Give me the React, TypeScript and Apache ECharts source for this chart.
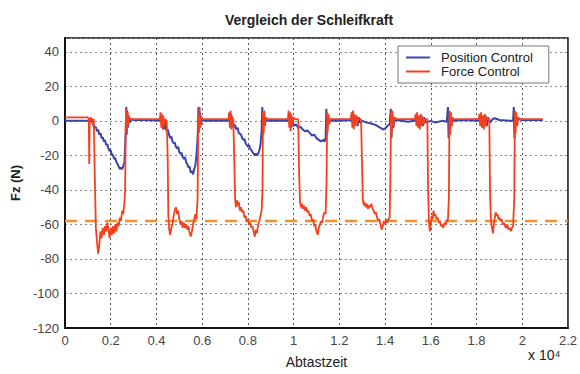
import React, { useEffect, useRef } from "react";
import * as echarts from "echarts";

const chartTitle = "Vergleich der Schleifkraft";
const xAxisName = "Abtastzeit";
const yAxisName = "Fz (N)";
const seriesNames = ["Position Control", "Force Control"];
const referenceLevel = -58;

// x in units of 10^4 samples, y = Fz in N
const positionControl: [number, number][] = [
  [0, 0], [0.1, 0], [0.115, 0.5], [0.12, -1], [0.125, -3], [0.13, -4], [0.135, -3.5], [0.14, -6], [0.145, -5],
  [0.15, -8], [0.155, -7], [0.16, -10], [0.165, -9.5], [0.17, -12], [0.175, -11], [0.18, -14], [0.185, -13.5],
  [0.19, -16], [0.195, -17.5], [0.2, -17], [0.205, -19.5], [0.21, -20], [0.215, -22], [0.22, -21.5], [0.225, -24],
  [0.23, -25], [0.235, -26.5], [0.24, -28], [0.245, -27], [0.25, -28], [0.255, -26], [0.26, -24], [0.263, -15],
  [0.266, -5], [0.268, 8], [0.27, -8], [0.272, 6], [0.275, -4], [0.278, 3], [0.282, -1], [0.29, 1], [0.3, 0.5],
  [0.35, 0.5], [0.42, 0], [0.425, -3], [0.428, 2], [0.432, -5], [0.436, 1], [0.44, -4], [0.445, -6], [0.45, -5],
  [0.455, -8], [0.46, -10], [0.465, -9], [0.47, -12], [0.475, -13], [0.48, -12.5], [0.485, -15], [0.49, -16],
  [0.495, -15], [0.5, -18], [0.505, -19], [0.51, -18.5], [0.515, -21], [0.52, -22], [0.525, -21], [0.53, -24],
  [0.535, -25], [0.54, -27], [0.545, -26.5], [0.55, -30], [0.555, -29], [0.56, -31], [0.565, -28], [0.57, -26],
  [0.575, -20], [0.58, -10], [0.584, 8], [0.587, -6], [0.59, 5], [0.594, -2], [0.6, 1], [0.61, 0], [0.72, 0],
  [0.725, 4], [0.728, -3], [0.732, 2], [0.736, -4], [0.74, -2], [0.745, -3], [0.75, -5], [0.755, -4], [0.76, -7],
  [0.77, -8], [0.775, -10], [0.78, -11], [0.785, -10.5], [0.79, -13], [0.8, -15], [0.805, -14], [0.81, -16],
  [0.82, -18], [0.825, -19], [0.83, -20], [0.835, -19], [0.84, -20], [0.845, -19], [0.85, -17], [0.855, -14],
  [0.86, -6], [0.863, 8], [0.866, -8], [0.869, 4], [0.873, -2], [0.88, 1], [0.89, 0], [0.98, 0], [0.985, 4],
  [0.99, -4], [0.995, 2], [1.0, -3], [1.01, -2], [1.02, -4], [1.03, -3.5], [1.04, -5], [1.05, -6], [1.06, -5.5],
  [1.07, -7], [1.08, -8.5], [1.09, -8], [1.1, -10], [1.11, -11], [1.12, -12], [1.13, -11], [1.135, -12],
  [1.14, -10], [1.143, 7], [1.146, -8], [1.15, 3], [1.155, -1], [1.16, 0.5], [1.17, 0], [1.2, 0], [1.25, 0.5],
  [1.27, 0], [1.275, 3], [1.28, -3], [1.285, 2], [1.29, -1], [1.3, 0], [1.32, -1], [1.34, -1.5], [1.36, -2.5],
  [1.38, -4], [1.39, -5], [1.4, -4.5], [1.41, -3], [1.42, -2], [1.425, 7], [1.428, -10], [1.432, 3], [1.436, -4],
  [1.44, 0], [1.45, 0.5], [1.5, -0.5], [1.55, 0.5], [1.56, 3], [1.565, -3], [1.57, 2], [1.58, -1], [1.6, 0],
  [1.62, -1], [1.65, 0], [1.67, -0.5], [1.675, 8], [1.678, -10], [1.682, 5], [1.686, -3], [1.69, 1], [1.7, 0],
  [1.75, 0.5], [1.8, 0], [1.83, 0], [1.84, 3], [1.845, -3], [1.85, 2], [1.86, -1], [1.87, 1], [1.88, 1.5],
  [1.9, 0.5], [1.95, 0], [1.96, 0], [1.963, 8], [1.966, -10], [1.97, 4], [1.975, -2], [1.98, 1], [2.0, 0.5],
  [2.09, 0.5],
];

const forceControl: [number, number][] = [
  [0, 2], [0.1, 2], [0.104, 1], [0.106, -25], [0.108, 0], [0.112, 2], [0.118, 1], [0.122, -2], [0.126, 1],
  [0.13, -30], [0.135, -62], [0.14, -70], [0.145, -77], [0.15, -72], [0.155, -64], [0.16, -68], [0.165, -62],
  [0.17, -66], [0.175, -61], [0.18, -64], [0.185, -59], [0.19, -63], [0.195, -68], [0.2, -62], [0.205, -66],
  [0.21, -61], [0.215, -65], [0.22, -60], [0.225, -64], [0.23, -59], [0.235, -61], [0.24, -56], [0.245, -58],
  [0.25, -52], [0.255, -54], [0.26, -47], [0.263, -40], [0.266, 0], [0.268, 7], [0.271, -6], [0.274, 5],
  [0.277, -3], [0.28, 2], [0.29, 1], [0.415, 1], [0.418, 5], [0.421, -4], [0.424, 4], [0.427, -5], [0.43, 3],
  [0.433, -3], [0.437, 1], [0.445, 0], [0.449, -20], [0.452, -55], [0.456, -63], [0.46, -66], [0.465, -62],
  [0.47, -60], [0.475, -55], [0.48, -52], [0.485, -50], [0.49, -54], [0.495, -52], [0.5, -57], [0.505, -60],
  [0.51, -58], [0.515, -62], [0.52, -59], [0.525, -62], [0.53, -60], [0.535, -63], [0.54, -61], [0.545, -65],
  [0.55, -67], [0.555, -64], [0.56, -60], [0.565, -57], [0.57, -54], [0.575, -57], [0.58, -45], [0.583, 3],
  [0.586, -7], [0.589, 8], [0.592, -4], [0.595, 3], [0.6, 1], [0.715, 1], [0.718, 5], [0.721, -4], [0.724, 6],
  [0.727, -5], [0.73, 3], [0.733, -2], [0.736, 1], [0.74, -20], [0.744, -45], [0.748, -50], [0.752, -46],
  [0.756, -49], [0.76, -47], [0.765, -52], [0.77, -50], [0.775, -53], [0.78, -52], [0.785, -56], [0.79, -55],
  [0.795, -58], [0.8, -57], [0.805, -60], [0.81, -59], [0.815, -62], [0.82, -61], [0.825, -64], [0.83, -67],
  [0.835, -63], [0.84, -65], [0.845, -60], [0.85, -58], [0.855, -55], [0.86, -52], [0.864, -40], [0.866, 5],
  [0.869, -7], [0.872, 6], [0.875, -3], [0.878, 2], [0.885, 1], [0.975, 1], [0.978, 6], [0.981, -4], [0.984, 5],
  [0.987, -6], [0.99, 4], [0.994, -3], [0.998, 2], [1.005, 1], [1.02, 1], [1.024, -30], [1.028, -47],
  [1.032, -50], [1.036, -48], [1.04, -51], [1.045, -49], [1.05, -52], [1.055, -50], [1.06, -53], [1.065, -52],
  [1.07, -55], [1.075, -54], [1.08, -58], [1.085, -57], [1.09, -61], [1.095, -60], [1.1, -64], [1.105, -66],
  [1.11, -62], [1.115, -60], [1.12, -58], [1.125, -59], [1.13, -55], [1.135, -53], [1.14, -54], [1.144, -35],
  [1.147, 5], [1.149, -6], [1.152, 4], [1.156, -2], [1.16, 1], [1.25, 1], [1.254, 5], [1.257, -4], [1.26, 6],
  [1.263, -5], [1.266, 4], [1.27, -3], [1.274, 3], [1.278, -2], [1.282, 1], [1.295, 1], [1.3, -30],
  [1.303, -46], [1.307, -49], [1.31, -47], [1.315, -50], [1.32, -48], [1.325, -51], [1.33, -49], [1.335, -50],
  [1.34, -48], [1.345, -51], [1.35, -52], [1.355, -54], [1.36, -53], [1.365, -56], [1.37, -58], [1.375, -57],
  [1.38, -60], [1.385, -63], [1.39, -61], [1.395, -58], [1.4, -60], [1.405, -57], [1.41, -59], [1.415, -57],
  [1.42, -56], [1.423, -35], [1.426, 5], [1.429, -7], [1.432, 6], [1.436, -3], [1.44, 2], [1.45, 1],
  [1.53, 1], [1.534, 4], [1.537, -3], [1.54, 5], [1.544, -4], [1.548, 3], [1.552, -5], [1.556, 4], [1.56, -3],
  [1.565, 2], [1.57, -2], [1.575, 1], [1.585, 1], [1.588, -40], [1.592, -58], [1.596, -64], [1.6, -60],
  [1.604, -55], [1.608, -57], [1.612, -52], [1.616, -55], [1.62, -54], [1.625, -57], [1.63, -56], [1.635, -59],
  [1.64, -58], [1.645, -61], [1.65, -60], [1.655, -62], [1.66, -59], [1.665, -60], [1.67, -58], [1.675, -57],
  [1.679, -45], [1.682, 6], [1.685, -8], [1.688, 5], [1.692, -3], [1.696, 2], [1.7, 1], [1.81, 1], [1.813, 4],
  [1.816, -3], [1.82, 5], [1.824, -4], [1.828, 3], [1.832, -5], [1.836, 4], [1.84, -3], [1.845, 2], [1.85, 1],
  [1.856, 1], [1.859, -40], [1.863, -58], [1.868, -62], [1.872, -65], [1.876, -60], [1.88, -56], [1.884, -53],
  [1.888, -55], [1.892, -54], [1.896, -57], [1.9, -56], [1.905, -58], [1.91, -57], [1.915, -60], [1.92, -59],
  [1.925, -61], [1.93, -62], [1.935, -60], [1.94, -63], [1.945, -62], [1.95, -64], [1.955, -62], [1.96, -61],
  [1.965, -45], [1.968, 6], [1.971, -7], [1.974, 5], [1.978, -3], [1.982, 2], [1.99, 1], [2.09, 1],
];

const referenceLine: [number, number][] = [[0, referenceLevel], [2.2, referenceLevel]];

const FONT = "'Liberation Sans', Arial, sans-serif";

export default function App() {
  const ref = useRef<HTMLDivElement>(null);
  useEffect(() => {
    if (!ref.current) return;
    const chart = echarts.init(ref.current, undefined, { renderer: "svg" });
    const fmt = (v: number) => String(parseFloat(v.toFixed(1)));
    chart.setOption({
      animation: false,
      backgroundColor: "#ffffff",
      title: {
        text: chartTitle,
        left: 304,
        top: 8,
        textAlign: "center",
        textStyle: { fontFamily: FONT, fontSize: 14, fontWeight: "bold", color: "#222" },
      },
      legend: {
        data: seriesNames,
        orient: "vertical",
        left: 398,
        top: 46,
        width: 160,
        padding: [5, 16, 5, 8],
        itemGap: 1,
        itemWidth: 24,
        itemHeight: 2,
        icon: "rect",
        backgroundColor: "#ffffff",
        borderColor: "#777",
        borderWidth: 1,
        textStyle: { fontFamily: FONT, fontSize: 13, color: "#222", padding: [0, 0, 0, 6], lineHeight: 13 },
      },
      grid: { left: 65, top: 38, width: 505, height: 291, show: true, borderColor: "#111", borderWidth: 1.5 },
      xAxis: {
        type: "value",
        min: 0,
        max: 2.2,
        interval: 0.2,
        name: xAxisName,
        nameLocation: "middle",
        nameGap: 27,
        nameTextStyle: { fontFamily: FONT, fontSize: 14, color: "#222" },
        axisLine: { show: true, onZero: false, lineStyle: { color: "#111", width: 2 } },
        axisTick: { show: false },
        axisLabel: { fontFamily: FONT, fontSize: 13, color: "#444", margin: 6, formatter: fmt },
        splitLine: { show: true, lineStyle: { type: [2, 3], color: "#555", width: 1 } },
      },
      yAxis: {
        type: "value",
        min: -120,
        max: 48,
        interval: 20,
        name: yAxisName,
        nameLocation: "middle",
        nameGap: 40,
        nameRotate: 90,
        nameTextStyle: { fontFamily: FONT, fontSize: 13, fontWeight: "bold", color: "#222" },
        axisLine: { show: true, onZero: false, lineStyle: { color: "#111", width: 2 } },
        axisTick: { show: false },
        axisLabel: { fontFamily: FONT, fontSize: 13, color: "#444", margin: 6, showMaxLabel: false },
        splitLine: { show: true, lineStyle: { type: [2, 3], color: "#888", width: 1 } },
      },
      graphic: [
        {
          type: "text",
          left: 528,
          top: 348,
          style: { text: "x 10⁴", fontFamily: FONT, fontSize: 14, fill: "#222" },
        },
      ],
      series: [
        {
          name: "Referenz",
          type: "line",
          data: referenceLine,
          symbol: "none",
          silent: true,
          lineStyle: { color: "#f0902a", width: 2.5, type: [12, 8] },
          z: 1,
        },
        {
          name: seriesNames[0],
          type: "line",
          data: positionControl,
          symbol: "none",
          itemStyle: { color: "#3a44b0" },
          lineStyle: { color: "#3a44b0", width: 2 },
          z: 2,
        },
        {
          name: seriesNames[1],
          type: "line",
          data: forceControl,
          symbol: "none",
          itemStyle: { color: "#f5401e" },
          lineStyle: { color: "#f5401e", width: 1.8 },
          z: 3,
        },
      ],
    });
    return () => chart.dispose();
  }, []);
  return (
    <div
      ref={ref}
      style={{ position: "fixed", left: 0, top: 0, width: 580, height: 374, background: "#fff" }}
    />
  );
}
